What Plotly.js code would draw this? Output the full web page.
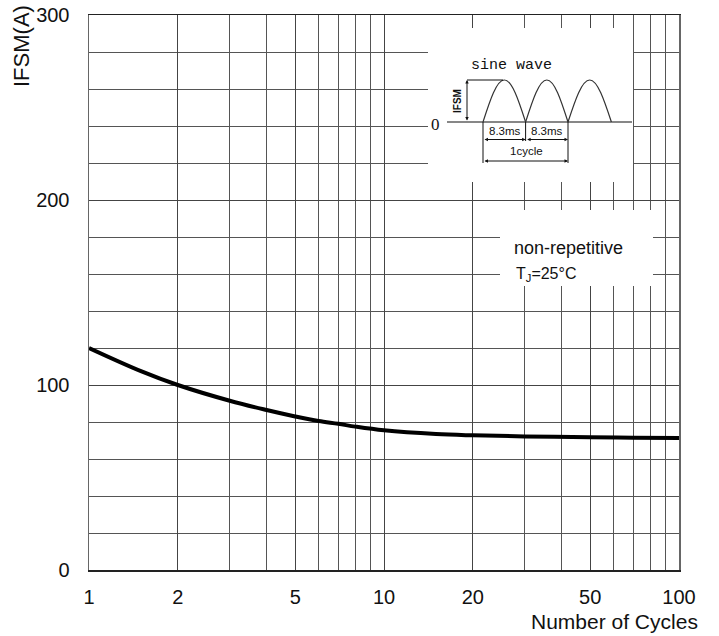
<!DOCTYPE html>
<html>
<head>
<meta charset="utf-8">
<script src="https://cdn.plot.ly/plotly-3.0.1.min.js"></script>
<style>html,body{margin:0;padding:0;background:#fff;}#chart{width:719px;height:636px;}</style>
</head>
<body>
<div id="chart"></div>
<script>
// ---- data ----
var cycles = [1, 1.5, 2, 3, 4, 5, 6, 7, 8, 10, 15, 20, 30, 50, 70, 100];
var ifsm   = [120, 107.5, 100, 91.5, 86.5, 83, 80.5, 79, 77.5, 75.5, 73.5, 72.8, 72.2, 71.8, 71.5, 71.3];
var xTickVals = [1, 2, 5, 10, 20, 50, 100];
var xTickText = ['1', '2', '5', '10', '20', '50', '100'];
var xMinorVals = [3, 4, 6, 7, 8, 9, 30, 40, 60, 70, 80, 90];
var yTickVals = [0, 100, 200, 300];
var yTickText = ['0', '100', '200', '300'];
var yMinorVals = [20, 40, 60, 80, 120, 140, 160, 180, 220, 240, 260, 280];

// ---- layout helpers (pixel -> paper) ----
var L = 89, T = 15, W = 590, H = 555;
function px(x) { return (x - L) / W; }
function py(y) { return (T + H - y) / H; }

var shapes = [];
var annotations = [];
function line(x0, y0, x1, y1, w) {
  shapes.push({type: 'line', xref: 'paper', yref: 'paper', x0: px(x0), y0: py(y0), x1: px(x1), y1: py(y1),
    line: {color: '#111', width: w || 1}, layer: 'above'});
}
function rect(x0, y0, x1, y1) {
  shapes.push({type: 'rect', xref: 'paper', yref: 'paper', x0: px(x0), y0: py(y0), x1: px(x1), y1: py(y1),
    fillcolor: '#fff', line: {width: 0}, layer: 'above'});
}
function text(x, y, t, size, family, opts) {
  var a = {xref: 'paper', yref: 'paper', x: px(x), y: py(y), text: t, showarrow: false,
    font: {size: size, family: family || 'Liberation Sans, Arial, sans-serif', color: '#111'},
    xanchor: 'center', yanchor: 'middle'};
  if (opts) for (var k in opts) a[k] = opts[k];
  annotations.push(a);
}
function dimArrow(x0, y, x1) {
  annotations.push({xref: 'paper', yref: 'paper', x: px(x1), y: py(y), ax: x0 - x1, ay: 0,
    axref: 'pixel', ayref: 'pixel', text: '', showarrow: true, arrowhead: 2, startarrowhead: 2,
    arrowside: 'end+start', arrowsize: 0.7, startarrowsize: 0.7, arrowwidth: 1, arrowcolor: '#111'});
}
function vArrow(x, y0, y1) {
  annotations.push({xref: 'paper', yref: 'paper', x: px(x), y: py(y0), ax: 0, ay: y1 - y0,
    axref: 'pixel', ayref: 'pixel', text: '', showarrow: true, arrowhead: 2, startarrowhead: 2,
    arrowside: 'end+start', arrowsize: 0.7, startarrowsize: 0.7, arrowwidth: 1, arrowcolor: '#111'});
}
function halfSine(x0, x1, base, peak) {
  var q = (x1 - x0) / 2, xc = x0 + q, h = base - peak;
  var P = function (x, y) { return px(x) + ',' + py(y); };
  var d = 'M' + P(x0, base) +
    ' C' + P(x0 + 0.3343 * q, base - 0.5251 * h) + ' ' + P(x0 + 0.6385 * q, peak) + ' ' + P(xc, peak) +
    ' C' + P(xc + 0.3615 * q, peak) + ' ' + P(xc + 0.6657 * q, base - 0.5251 * h) + ' ' + P(x1, base);
  shapes.push({type: 'path', xref: 'paper', yref: 'paper', path: d, line: {color: '#333', width: 1.2}, layer: 'above'});
}

// white boxes over the grid
rect(428, 28, 633, 182);
rect(500, 210, 653, 286);

// inset: sine wave sketch
line(447, 122, 632, 122, 1.2);
halfSine(483, 525.6, 122, 80);
halfSine(525.6, 568, 122, 80);
halfSine(568, 611.4, 122, 80);
line(467, 80, 503, 80, 1);
vArrow(467, 80, 122);
line(483, 122, 483, 163, 1);
line(525.6, 122, 525.6, 141, 1);
line(568, 122, 568, 163, 1);
dimArrow(483, 139.5, 525.6);
dimArrow(525.6, 139.5, 568);
dimArrow(483, 161, 568);
text(511, 66, 'sine wave', 15, 'Liberation Mono, Courier New, monospace');
text(435, 124, '0', 17, 'Liberation Serif, serif');
text(458, 101, '<b>IFSM</b>', 10, 'Liberation Sans, Arial, sans-serif', {textangle: -90});
text(504.5, 130.5, '8.3ms', 11.5, 'Liberation Sans Narrow, Liberation Sans, Arial, sans-serif');
text(547, 130.5, '8.3ms', 11.5, 'Liberation Sans Narrow, Liberation Sans, Arial, sans-serif');
text(526, 151, '1cycle', 11.5, 'Liberation Sans Narrow, Liberation Sans, Arial, sans-serif');

// condition note
text(568, 248, 'non-repetitive', 18);
text(546, 274, 'T<sub>J</sub>=25°C', 16);

// axis titles
text(22, 46, 'IFSM(A)', 22, null, {textangle: -90});
text(700, 621, 'Number of Cycles', 21, null, {xanchor: 'right'});

var trace = {
  x: cycles, y: ifsm, type: 'scatter', mode: 'lines',
  line: {color: '#000', width: 4, shape: 'spline', smoothing: 1},
  hoverinfo: 'skip'
};

var layout = {
  width: 719, height: 636,
  margin: {l: L, r: 719 - L - W, t: T, b: 636 - T - H, pad: 0},
  paper_bgcolor: '#fff', plot_bgcolor: '#fff',
  showlegend: false,
  font: {family: 'Liberation Sans, Arial, sans-serif', color: '#111'},
  xaxis: {
    type: 'log', range: [0, 2], tickmode: 'array', tickvals: xTickVals, ticktext: xTickText,
    showgrid: true, gridcolor: '#444', gridwidth: 1,
    minor: {tickmode: 'array', tickvals: xMinorVals, showgrid: true, gridcolor: '#555', gridwidth: 1, ticks: ''},
    ticks: '', ticklabelstandoff: 8, tickfont: {size: 20, color: '#111'},
    showline: true, linecolor: '#222', linewidth: 1.5, mirror: true, zeroline: false
  },
  yaxis: {
    range: [0, 300], tickmode: 'array', tickvals: yTickVals, ticktext: yTickText,
    showgrid: true, gridcolor: '#444', gridwidth: 1,
    minor: {tickmode: 'array', tickvals: yMinorVals, showgrid: true, gridcolor: '#555', gridwidth: 1, ticks: ''},
    ticks: '', ticklabelstandoff: 14, tickfont: {size: 20, color: '#111'},
    showline: true, linecolor: '#666', linewidth: 1.5, mirror: true, zeroline: false
  },
  shapes: shapes,
  annotations: annotations
};

Plotly.newPlot('chart', [trace], layout, {staticPlot: true, displayModeBar: false});
</script>
</body>
</html>
